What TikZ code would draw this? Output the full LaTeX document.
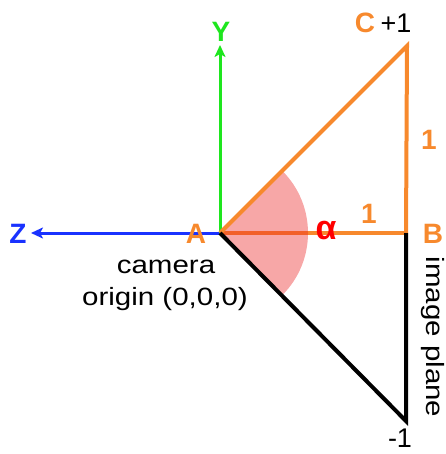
\documentclass[tikz,border=0pt]{standalone}
\usepackage{fontspec}
\setmainfont{Liberation Sans}
\newfontfamily\bodyfont{Liberation Sans}[FakeStretch=1.18]
\usetikzlibrary{arrows.meta}
\definecolor{orng}{RGB}{247,137,45}
\definecolor{zblue}{RGB}{25,50,255}
\definecolor{ygreen}{RGB}{30,230,30}
\definecolor{secred}{RGB}{235,35,35}
\begin{document}
\begin{tikzpicture}[x=1pt,y=-1pt,
  lbl/.style={font=\fontsize{28}{32}\selectfont\bfseries, text=orng, inner sep=0pt, anchor=base},
  num/.style={font=\fontsize{27}{30}\selectfont, text=black, inner sep=0pt, anchor=base},
  body/.style={font=\bodyfont\fontsize{25}{30}\selectfont, text=black, inner sep=0pt, anchor=base},
  axis/.style={line width=3pt, -{Stealth[length=12pt,width=11pt,inset=3pt]}},
  edge/.style={line width=4pt, line join=miter}]
\useasboundingbox (0,0) rectangle (445,454);
\coordinate (A) at (220,233);
\coordinate (B) at (406,233);
\coordinate (C) at (407,46);
\coordinate (D) at (406,421);
\coordinate (Zt) at (31,233);
\coordinate (Yt) at (220,45);
% axes
\draw[axis, zblue] (A) -- (Zt);
\draw[axis, ygreen] (A) -- (Yt);
% horizontal orange line (under the sector)
\draw[edge, orng] (A) -- (B);
% angle sector
\fill[secred, opacity=0.4] (A) -- ++(-45:88) arc[start angle=-45, end angle=45, radius=88] -- cycle;
% triangle edges
\draw[edge, orng] (A) -- (C) -- (B);
\draw[edge, black] (A) -- (D) -- (B);
% labels
\node[lbl, text=zblue] (zl) at (18,243) {Z};
\node[lbl, text=ygreen] (yl) at (221,42) {Y};
\node[lbl] (al) at (196,243) {A};
\node[lbl] (bl) at (433,243) {B};
\node[lbl] (cl) at (365,33) {C};
\node[num] (p1) at (396,33) {+1};
\node[lbl] (oneh) at (369,223) {1};
\node[lbl] (onev) at (429,150) {1};
\node[lbl, text=red, font=\fontsize{34}{38}\selectfont\bfseries] (alpha) at (326,239) {α};
\node[num] (m1) at (400,447) {-1};
\node[body] (cam) at (166,273) {camera};
\node[body] (orig) at (165,305) {origin (0,0,0)};
\node[body, anchor=center, rotate=-90] (ip) at (433,337) {image plane};
\end{tikzpicture}
\end{document}
